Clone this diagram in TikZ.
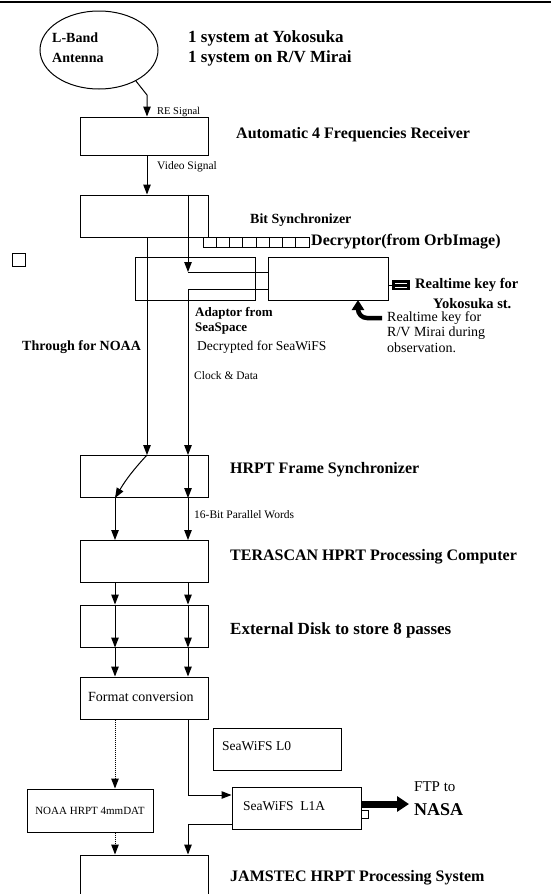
\documentclass[tikz,border=0pt]{standalone}
\usepackage{fontspec}
\setmainfont{Liberation Serif}
\usetikzlibrary{positioning,arrows.meta,shapes.geometric}

\begin{document}
\begin{tikzpicture}[x=1pt,y=-1pt]
    % Define block styles
    \tikzstyle{block} = [rectangle, draw, line width=1pt, minimum width=128pt,
        minimum height=42pt, inner sep=0pt, font=\fontsize{11}{13}\selectfont]
    \tikzstyle{line} = [draw, line width=1pt, -{Triangle[length=10pt,width=7.5pt]}]
    \tikzstyle{dotline} = [line, densely dotted]
    \tikzstyle{title} = [anchor=west, inner sep=0pt, align=left,
        font=\fontsize{16}{20}\selectfont\bfseries]
    \tikzstyle{note} = [anchor=west, inner sep=0pt, align=left,
        font=\fontsize{13.5}{15}\selectfont]
    \tikzstyle{tag} = [anchor=west, inner sep=0pt, font=\fontsize{11.5}{12}\selectfont]

    \useasboundingbox (0,0) rectangle (551,894);
    \draw[line width=2pt] (0,2) -- (551,2);

    % Lanes of the signal paths
    \coordinate (laneA) at (147,0);
    \coordinate (laneB) at (188,0);
    \coordinate (laneC) at (115,0);

    % Place nodes
    \node [ellipse, draw, line width=1pt, minimum width=118pt, minimum height=78pt] (antenna) at (99,50) {};
    \node [title, font=\fontsize{14}{20}\selectfont\bfseries] (antlbl) at (52,48) {L-Band\\Antenna};
    \node [title, font=\fontsize{17}{20}\selectfont\bfseries] (sites) at (188,48) {1 system at Yokosuka\\1 system on R/V Mirai};

    \node [block, minimum height=38pt] (receiver) at (144,136) {};
    \node [block, below of=receiver, node distance=80pt] (bitsync) {};
    \node [block, minimum width=120pt, minimum height=43pt] (adaptor) at (195,278.5) {};
    \node [block, right of=adaptor, node distance=133pt, minimum width=120pt, minimum height=43pt] (keybox) {};
    \node [block, below of=bitsync, node distance=260.5pt] (framesync) {};
    \node [block, below of=framesync, node distance=85pt] (terascan) {};
    \node [block, below of=terascan, node distance=64.5pt] (disk) {};
    \node [block, below of=disk, node distance=72pt] (format) {};
    \node [note, font=\fontsize{14}{15}\selectfont] (formatlbl) at (88,697) {Format conversion};
    \node [block, right of=format, node distance=133pt, yshift=-51pt] (level0) {};
    \node [note] (level0lbl) at (222,746) {SeaWiFS L0};
    \node [block, minimum width=126pt, minimum height=43pt] (noaa) at (90,810.5) {NOAA HRPT 4mmDAT};
    \node [block, minimum width=129pt] (level1a) at (296.5,808) {};
    \node [note] (level1albl) at (243,806) {SeaWiFS\ \ L1A};
    \node [draw, line width=1pt, minimum width=7pt, minimum height=8pt, inner sep=0pt] (plug) at (364.5,814) {};
    \node [block, below of=format, node distance=178pt] (jamstec) {};
    \node [draw, line width=1pt, minimum size=13pt, inner sep=0pt] (marker) at (18.5,259.5) {};

    % Decryptor strip
    \foreach \i in {0,...,7}
        \draw[line width=1pt] (203+13.25*\i,237) rectangle ++(13.25,10);
    % Realtime key plug
    \node [fill=black, minimum width=18pt, minimum height=10pt, inner sep=0pt] (keyplug) at (401,285) {};
    \draw[white, line width=0.8pt] (keyplug.west) ++(3,-2) -- ++(12,0) ++(-12,4) -- ++(12,0);
    \draw[line width=1pt] (keybox.east |- keyplug) -- (keyplug.west);

    % Labels
    \node [title] at (236,135) {Automatic 4 Frequencies Receiver};
    \node [title, font=\fontsize{14}{16}\selectfont\bfseries] at (250,220) {Bit Synchronizer};
    \node [title] at (311,242) {Decryptor(from OrbImage)};
    \node [title, font=\fontsize{14.5}{16}\selectfont\bfseries] at (415,285) {Realtime key for};
    \node [title, font=\fontsize{14.5}{16}\selectfont\bfseries] at (433,304) {Yokosuka st.};
    \node [title, font=\fontsize{13}{15}\selectfont\bfseries] at (195,320.5) {Adaptor from\\SeaSpace};
    \node [note, font=\fontsize{14}{15.5}\selectfont] at (387,332) {Realtime key for\\R/V Mirai during\\observation.};
    \node [title, font=\fontsize{14}{16}\selectfont\bfseries] at (22,347) {Through for NOAA};
    \node [note] at (197,347) {Decrypted for SeaWiFS};
    \node [tag, font=\fontsize{10.5}{12}\selectfont] at (157,112) {RE Signal};
    \node [tag] at (157,167) {Video Signal};
    \node [tag] at (194,376) {Clock \& Data};
    \node [tag] at (194,515) {16-Bit Parallel Words};
    \node [title] at (230,470) {HRPT Frame Synchronizer};
    \node [title] at (230,557) {TERASCAN HPRT Processing Computer};
    \node [title, font=\fontsize{17}{20}\selectfont\bfseries] at (230,630) {External Disk to store 8 passes};
    \node [title] at (230,878) {JAMSTEC HRPT Processing System};
    \node [note, font=\fontsize{15}{16}\selectfont] at (414,787) {FTP to};
    \node [anchor=west, inner sep=0pt, font=\fontsize{18}{20}\selectfont\bfseries] (nasa) at (414,810) {NASA};

    % Draw arrows
    \coordinate (bend) at (147,95);
    \path [line] (antenna.-40) -- (bend) -- (laneA |- receiver.north);
    \path [line] (laneA |- receiver.south) -- (laneA |- bitsync.north);
    \coordinate (adIn) at (188,272);
    \coordinate (adOut) at (188,289);
    \path [line] (laneB |- bitsync.north) -- (adIn);
    \draw [line width=1pt] (adIn) -- (adIn -| keybox.west);
    \path [line] (adOut -| keybox.west) -- (adOut) -- (laneB |- framesync.north);
    \path [line] (laneA |- bitsync.south) -- (laneA |- framesync.north);
    \path [line] (laneA |- framesync.north) to[bend right=6] (laneC |- framesync.south);
    \path [line] (laneB |- framesync.north) -- (laneB |- framesync.south);
    \foreach \lane in {laneC,laneB} {
        \path [line] (\lane |- framesync.south) -- (\lane |- terascan.north);
        \path [line] (\lane |- terascan.south) -- (\lane |- disk.north);
        \path [line] (\lane |- disk.north) -- (\lane |- disk.south);
        \path [line] (\lane |- disk.south) -- (\lane |- format.north);
    }
    \path [dotline] (laneC |- format.south) -- (laneC |- noaa.north);
    \path [dotline] (laneC |- noaa.south) -- (laneC |- jamstec.north);
    \coordinate (toL1A) at (188,795);
    \path [line] (laneB |- format.south) -- (toL1A) -- (toL1A -| level1a.west);
    \coordinate (fromL1A) at (232,824);
    \path [line] (fromL1A) -- (laneB |- fromL1A) -- (laneB |- jamstec.north);
    \path [draw, line width=7pt, -{Triangle[length=12pt,width=15pt]}] (level1a.east |- 0,804) -- ([xshift=-5pt]nasa.west |- 0,804);
    % Realtime key for R/V Mirai
    \draw [line width=4.5pt, -{Triangle[length=10pt,width=12pt]}] (382,318) -- (367,318) to[out=180,in=-90] (358,309) -- (358,300);
\end{tikzpicture}
\end{document}
